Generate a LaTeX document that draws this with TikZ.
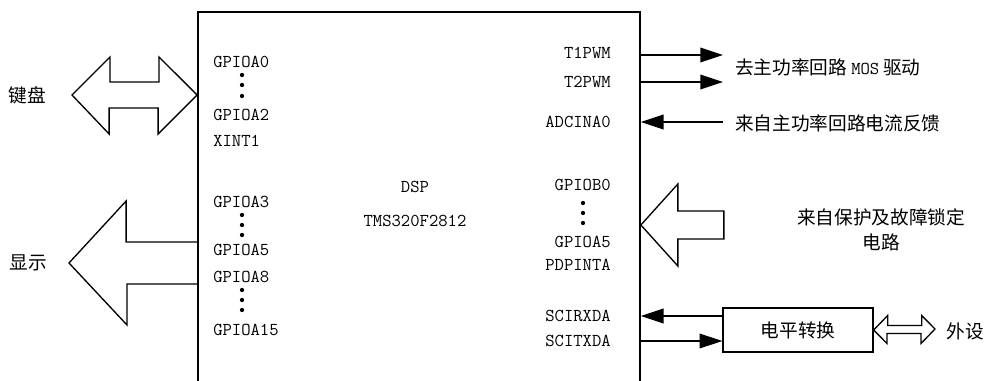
\documentclass[tikz,border=0pt]{standalone}
\usepackage{fontspec}
\usetikzlibrary{arrows.meta,positioning,calc}
\newfontfamily\zhface{Noto Sans CJK SC}
\newcommand{\pinfont}{\ttfamily\fontsize{13.6}{16}\selectfont}
\newcommand{\zhfont}{\zhface\fontsize{14}{18.75}\selectfont}
\tikzset{
  pinl/.style={anchor=west,inner sep=0pt,font=\pinfont},
  pinr/.style={anchor=east,inner sep=0pt,font=\pinfont},
  zhlbl/.style={inner sep=0pt,font=\zhfont,align=center},
  vdot/.style={circle,fill,inner sep=0pt,minimum size=3.2pt},
  sig/.style={-{Triangle[length=17pt,width=11pt]},line width=1pt},
  fat/.style={line width=1pt,line join=miter},
}

\begin{document}
\begin{tikzpicture}[
    x=0.75pt, y=-0.75pt,
    dspbox/.style={
      draw,
      line width=1.3pt,
      minimum width=331.5pt,
      minimum height=291pt
    },
    lvlbox/.style={
      draw,
      line width=1pt,
      minimum width=112.5pt,
      minimum height=33pt,
      font=\zhfont
    }
  ]
    \useasboundingbox (0,0) rectangle (986,381);

    % DSP chip, its lower edge lies below the page
    \node[dspbox] (dsp) at (419,206) {};
    \node[font=\pinfont,align=center,inner sep=0pt] (dsplbl) at (415,204)
      {DSP\\[10pt]TMS320F2812};

    % left side pins
    \node[pinl] (pa0) at (213,62) {GPIOA0};
    \node[pinl] (pa2) at (213,115) {GPIOA2};
    \node[pinl] (xint) at (213,141) {XINT1};
    \node[pinl] (pa3) at (213,202) {GPIOA3};
    \node[pinl] (pa5) at (213,250) {GPIOA5};
    \node[pinl] (pa8) at (213,277) {GPIOA8};
    \node[pinl] (pa15) at (213,330) {GPIOA15};
    \foreach \y in {75,85,96,215,225,235,290,300,310}
      \node[vdot] (ld\y) at (242,\y) {};

    % right side pins
    \node[pinr] (t1) at (611,53) {T1PWM};
    \node[pinr] (t2) at (611,82) {T2PWM};
    \node[pinr] (adc) at (611,122) {ADCINA0};
    \node[pinr] (pb0) at (611,185) {GPIOB0};
    \node[pinr] (pb5) at (611,242) {GPIOA5};
    \node[pinr] (pdp) at (611,265) {PDPINTA};
    \node[pinr] (rxd) at (611,316) {SCIRXDA};
    \node[pinr] (txd) at (611,341) {SCITXDA};
    \foreach \y in {203,213,223}
      \node[vdot] (rd\y) at (583,\y) {};

    % outer blocks
    \node[zhlbl] (kbd) at (27,95) {键盘};
    \node[zhlbl] (disp) at (28,263) {显示};
    \node[zhlbl,anchor=west] (drv) at (735,67)
      {去主功率回路\hspace{3pt}{\pinfont MOS}\hspace{3pt}驱动};
    \node[zhlbl,anchor=west] (fb) at (735,123) {来自主功率回路电流反馈};
    \node[zhlbl] (prot) at (881,230) {来自保护及故障锁定\\电路};
    \node[lvlbox] (lvl) at (798,330) {电平转换};
    \node[zhlbl] (ext) at (965,331) {外设};

    \coordinate (kbTip) at (72,95);
    \coordinate (kbEnd) at (dsp.west |- kbTip);
    \coordinate (dispTip) at (69,263);
    \coordinate (dispEnd) at (dsp.west |- dispTip);
    \coordinate (protTip) at (dsp.east |- 0,225);
    \coordinate (t1End) at (723,55);
    \coordinate (t2End) at (723,82);
    \coordinate (adcEnd) at (723,122);
    \coordinate (extTip) at (935,329);

    % fat arrows
    \draw[fat] (kbTip) -- ++(38,-38) -- ++(0,25) -- ++(49,0) -- ++(0,-25)
      -- (kbEnd) -- ++(-39,39) -- ++(0,-26) -- ++(-49,0) -- ++(0,26) -- cycle;
    \draw[fat] ($(dispEnd)+(0,-21)$) -- ++(-71,0) -- ++(0,-41) -- (dispTip)
      -- ++(58,62) -- ++(0,-41) -- ($(dispEnd)+(0,21)$);
    \draw[fat] (protTip) -- ++(37,-41) -- ++(0,27) -- ++(46,0) -- ++(0,28)
      -- ++(-46,0) -- ++(0,27) -- cycle;
    \draw[fat] (lvl.east) -- ++(14,-14.5) -- ++(0,10) -- ++(34,0) -- ++(0,-10)
      -- (extTip) -- ++(-14,14.5) -- ++(0,-10) -- ++(-34,0) -- ++(0,10) -- cycle;

    % signal lines
    \draw[sig] (dsp.east |- t1End) -- (t1End);
    \draw[sig] (dsp.east |- t2End) -- (t2End);
    \draw[sig] (adcEnd) -- (dsp.east |- adcEnd);
    \draw[sig] (lvl.west |- rxd) -- (dsp.east |- rxd);
    \draw[sig] (dsp.east |- txd) -- (lvl.west |- txd);

  \end{tikzpicture}
\end{document}
